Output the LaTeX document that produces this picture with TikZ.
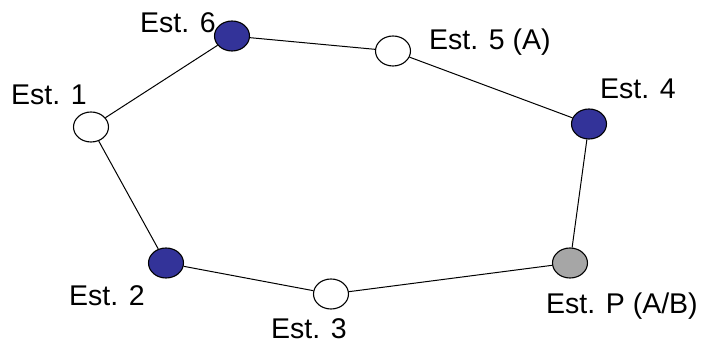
\documentclass[tikz,border=0pt]{standalone}
\usepackage{fontspec}
\setmainfont{Liberation Sans}
\usetikzlibrary{shapes.geometric}
\definecolor{stblue}{HTML}{333399}
\definecolor{stgray}{HTML}{A6A6A6}
\begin{document}
\begin{tikzpicture}[x=1pt,y=-1pt,
  station/.style={ellipse,draw=black,line width=1.1pt,minimum width=35pt,minimum height=30pt,inner sep=0pt},
  open/.style={station,fill=white},
  busy/.style={station,fill=stblue},
  hub/.style={station,fill=stgray},
  tag/.style={anchor=base west,inner sep=0pt,font=\fontsize{28.5}{30}\selectfont},
  link/.style={draw=black,line width=1pt}]
\useasboundingbox (0,0) rectangle (713,344);
% ring of stations
\node[open] (e1) at (91,127) {};
\node[busy] (e2) at (166,263) {};
\node[open] (e3) at (331,294) {};
\node[hub]  (ep) at (570,263) {};
\node[busy] (e4) at (589,124) {};
\node[open] (e5) at (393,51) {};
\node[busy] (e6) at (232,36) {};
% connections
\path[link] (e1) -- (e2);
\path[link] (e2) -- (e3);
\path[link] (e3) -- (ep);
\path[link] (ep) -- (e4);
\path[link] (e4) -- (e5);
\path[link] (e5) -- (e6);
\path[link] (e6) -- (e1);
% station names
\node[tag] (l6) at (140,33) {Est. 6};
\node[tag] (l1) at (11,105) {Est. 1};
\node[tag] (l5) at (429,50) {Est. 5 (A)};
\node[tag] (l4) at (600,99) {Est. 4};
\node[tag] (l2) at (69,306) {Est. 2};
\node[tag] (l3) at (271,339) {Est. 3};
\node[tag] (lp) at (546,314) {Est. P (A/B)};
\end{tikzpicture}
\end{document}
